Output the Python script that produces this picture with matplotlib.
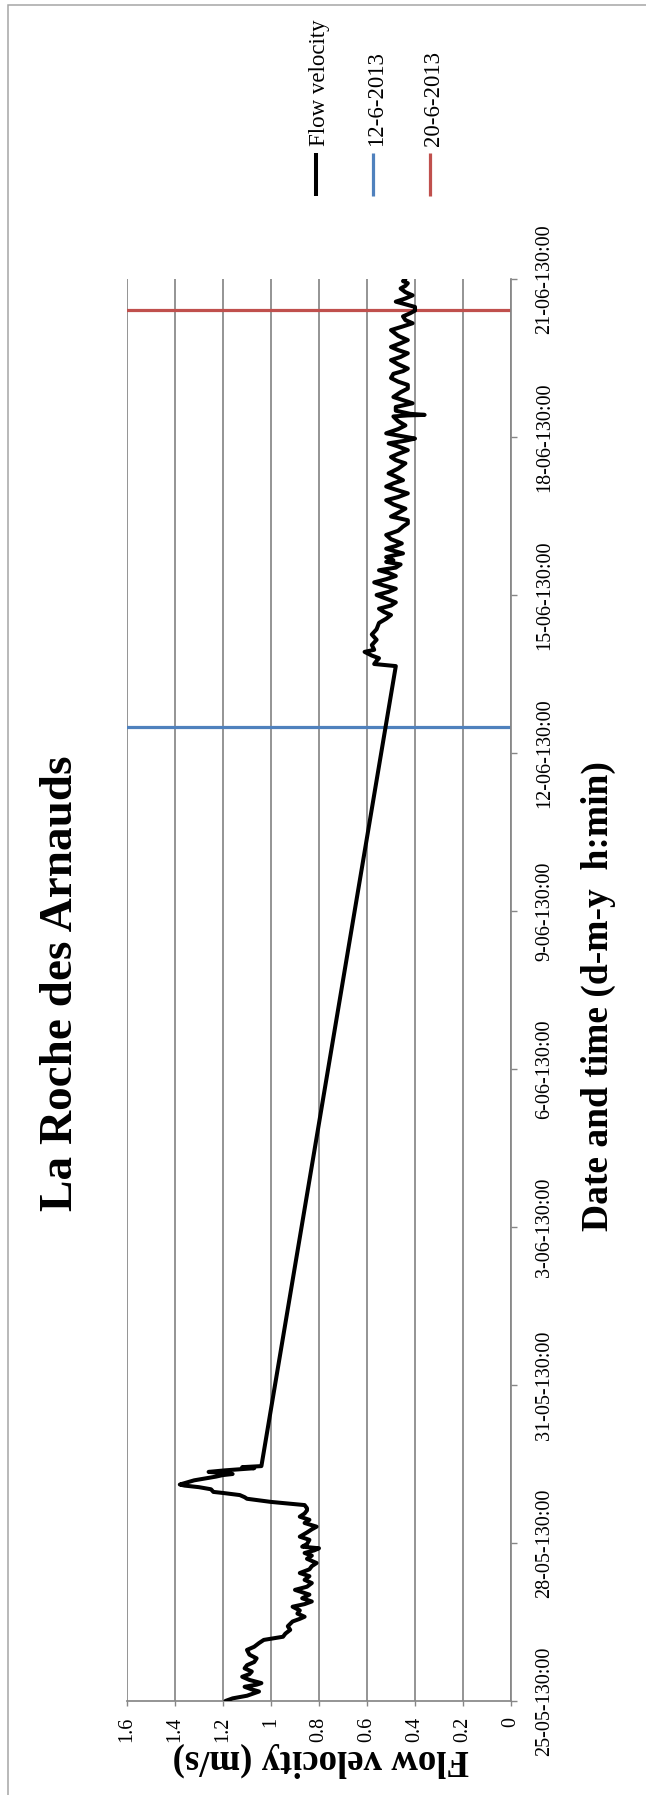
import matplotlib
matplotlib.use("Agg")
import matplotlib.pyplot as plt
import pandas as pd
from matplotlib.lines import Line2D
from matplotlib.patches import Rectangle

plt.rcParams['font.family'] = ['Liberation Serif', 'DejaVu Serif']

# ---------------------------------------------------------------- data
start = pd.Timestamp('2013-05-25 00:00')

# elapsed time (days since 25-05-2013 00:00) and flow velocity (m/s)
time_days = [
    0.00, 0.05, 0.10, 0.18, 0.22, 0.27, 0.31, 0.34, 0.40, 0.46,
    0.51, 0.56, 0.62, 0.68, 0.74, 0.81, 0.88, 0.97, 1.03, 1.10,
    1.16, 1.19, 1.22, 1.28, 1.35, 1.42, 1.51, 1.56, 1.60, 1.66,
    1.72, 1.79, 1.84, 1.89, 1.95, 2.02, 2.11, 2.17, 2.24, 2.30,
    2.37, 2.43, 2.50, 2.56, 2.62, 2.70, 2.76, 2.81, 2.86, 2.90,
    2.93, 2.98, 3.06, 3.12, 3.20, 3.26, 3.31, 3.38, 3.44, 3.50,
    3.56, 3.62, 3.66, 3.72, 3.78, 3.84, 3.87, 3.91, 3.95, 3.97,
    4.02, 4.06, 4.09, 4.11, 4.15, 4.19, 4.23, 4.26, 4.29, 4.31,
    4.33, 4.35, 4.38, 4.40, 4.42, 4.44, 4.46,
    19.65, 19.69, 19.75, 19.80, 19.85, 19.92, 19.96, 20.05, 20.15, 20.25,
    20.35, 20.47, 20.55, 20.62, 20.68, 20.74, 20.80, 20.86, 20.93, 21.00,
    21.06, 21.12, 21.18, 21.24, 21.30, 21.36, 21.42, 21.47, 21.52, 21.58,
    21.63, 21.66, 21.72, 21.79, 21.84, 21.88, 21.93, 21.98, 22.06, 22.14,
    22.22, 22.30, 22.36, 22.42, 22.49, 22.56, 22.64, 22.72, 22.80, 22.86,
    22.93, 23.00, 23.06, 23.12, 23.18, 23.25, 23.31, 23.40, 23.50, 23.56,
    23.62, 23.68, 23.75, 23.82, 23.88, 23.93, 23.97, 24.02, 24.07, 24.15,
    24.22, 24.30, 24.39, 24.41, 24.42, 24.44, 24.50, 24.57, 24.64, 24.70,
    24.76, 24.85, 24.92, 24.99, 25.05, 25.12, 25.20, 25.25, 25.30, 25.38,
    25.46, 25.52, 25.59, 25.65, 25.71, 25.78, 25.84, 25.92, 26.03, 26.10,
    26.16, 26.22, 26.29, 26.35, 26.40, 26.47, 26.52, 26.57, 26.63, 26.69,
    26.75, 26.82, 26.87, 26.92, 26.96, 27.00,
]
velocity = [
    1.19, 1.16, 1.10, 1.05, 1.08, 1.11, 1.06, 1.04, 1.09, 1.12,
    1.09, 1.08, 1.11, 1.10, 1.07, 1.06, 1.09, 1.10, 1.07, 1.05,
    1.03, 0.99, 0.95, 0.94, 0.92, 0.93, 0.91, 0.88, 0.86, 0.89,
    0.88, 0.91, 0.86, 0.83, 0.87, 0.84, 0.90, 0.85, 0.83, 0.86,
    0.84, 0.88, 0.84, 0.83, 0.81, 0.85, 0.83, 0.86, 0.82, 0.80,
    0.87, 0.85, 0.84, 0.88, 0.85, 0.83, 0.81, 0.86, 0.84, 0.88,
    0.86, 0.85, 0.85, 0.86, 1.00, 1.10, 1.11, 1.13, 1.20, 1.24,
    1.25, 1.30, 1.36, 1.38, 1.35, 1.32, 1.27, 1.23, 1.20, 1.16,
    1.21, 1.26, 1.19, 1.13, 1.07, 1.12, 1.04,
    0.48, 0.57, 0.56, 0.55, 0.58, 0.61, 0.57, 0.58, 0.56, 0.58,
    0.56, 0.55, 0.52, 0.50, 0.53, 0.55, 0.50, 0.48, 0.52, 0.56,
    0.51, 0.48, 0.53, 0.57, 0.52, 0.48, 0.51, 0.55, 0.48, 0.46,
    0.52, 0.49, 0.52, 0.45, 0.49, 0.52, 0.48, 0.455, 0.50, 0.52,
    0.47, 0.45, 0.43, 0.43, 0.50, 0.47, 0.44, 0.49, 0.52, 0.47,
    0.43, 0.48, 0.52, 0.49, 0.45, 0.48, 0.51, 0.47, 0.44, 0.48,
    0.50, 0.47, 0.43, 0.47, 0.51, 0.44, 0.40, 0.46, 0.52, 0.47,
    0.44, 0.47, 0.49, 0.43, 0.36, 0.42, 0.48, 0.48, 0.41, 0.45,
    0.49, 0.46, 0.43, 0.43, 0.47, 0.50, 0.49, 0.45, 0.43, 0.47,
    0.50, 0.46, 0.43, 0.47, 0.50, 0.46, 0.43, 0.47, 0.50, 0.45,
    0.41, 0.44, 0.45, 0.42, 0.40, 0.40, 0.44, 0.48, 0.44, 0.41,
    0.44, 0.46, 0.44, 0.43, 0.45, 0.44,
]

# marker dates drawn as horizontal reference lines
event_labels = ['12-6-2013', '20-6-2013']
event_times = ['2013-06-12 12:00', '2013-06-20 10:00']
event_colors = ['#4F81BD', '#C0504D']

velocity_ticks = [1.6, 1.4, 1.2, 1.0, 0.8, 0.6, 0.4, 0.2, 0.0]
velocity_tick_labels = ['1.6', '1.4', '1.2', '1', '0.8', '0.6', '0.4', '0.2', '0']

date_ticks = ['2013-05-25', '2013-05-28', '2013-05-31', '2013-06-03', '2013-06-06',
              '2013-06-09', '2013-06-12', '2013-06-15', '2013-06-18', '2013-06-21']
date_tick_labels = ['25-05-130:00', '28-05-130:00', '31-05-130:00', '3-06-130:00',
                    '6-06-130:00', '9-06-130:00', '12-06-130:00', '15-06-130:00',
                    '18-06-130:00', '21-06-130:00']

# ---------------------------------------------------------------- figure
W, H = 646, 1795
fig = plt.figure(figsize=(W / 100, H / 100), dpi=100)
fig.patch.set_facecolor('white')

def fx(px):
    return px / W

def fy(py):
    return 1 - py / H

# chart frame
fig.add_artist(Rectangle((fx(8), -0.05), 1.0, fy(5) + 0.05, transform=fig.transFigure,
                         fill=False, ec='#A6A6A6', lw=1.1))

ax_left, ax_right, ax_top, ax_bottom = 127, 511, 279, 1701
ax = fig.add_axes([fx(ax_left), fy(ax_bottom), fx(ax_right - ax_left),
                   (ax_bottom - ax_top) / H])

grey = '#868686'
times = start + pd.to_timedelta(time_days, unit='D')

for lab, t, c in zip(event_labels, event_times, event_colors):
    ax.axhline(pd.Timestamp(t), color=c, lw=2.3, zorder=2)

ax.plot(velocity, times, color='black', lw=2.9, solid_joinstyle='round',
        solid_capstyle='round', zorder=3)

ax.set_xlim(1.6, 0.0)
ax.set_ylim(pd.Timestamp('2013-05-25'), pd.Timestamp('2013-06-21'))

ax.set_xticks(velocity_ticks)
ax.set_xticklabels(velocity_tick_labels, rotation=90, ha='center', va='top')
ax.yaxis.tick_right()
ax.set_yticks(pd.to_datetime(date_ticks))
ax.set_yticklabels(date_tick_labels, rotation=90, va='center', ha='left')

ax.tick_params(axis='x', direction='out', length=3.6, width=1.0, color=grey,
               pad=8, labelsize=14.5)
ax.tick_params(axis='y', direction='out', length=4.3, width=1.0, color=grey,
               pad=13, labelsize=14.5)

ax.grid(axis='x', color=grey, lw=1.25)
ax.set_axisbelow(True)
for side in ('top', 'left'):
    ax.spines[side].set_visible(False)
for side in ('bottom', 'right'):
    ax.spines[side].set_color(grey)
    ax.spines[side].set_linewidth(1.25)

ax.set_xlabel('Flow velocity (m/s)', rotation=180, fontsize=26.5, fontweight='bold',
              ha='center', va='center', rotation_mode='anchor')
ax.xaxis.set_label_coords(0.506, -0.0415)
ax.yaxis.set_label_position('right')
ax.set_ylabel('Date and time (d-m-y  h:min)', rotation=90, fontsize=27,
              fontweight='bold', ha='center', va='center', rotation_mode='anchor')
ax.yaxis.set_label_coords(1.228, 0.4958)

# title
fig.text(fx(61), fy(983), 'La Roche des Arnauds', rotation=90, ha='center',
         va='center', fontsize=34, fontweight='bold')

# legend
legend_labels = ['Flow velocity'] + event_labels
legend_colors = ['black'] + event_colors
legend_widths = [2.9, 2.3, 2.3]
legend_x = [315.6, 373, 430]
for lab, c, lw, x in zip(legend_labels, legend_colors, legend_widths, legend_x):
    fig.add_artist(Line2D([fx(x), fx(x)], [fy(196), fy(153)], color=c, lw=lw,
                          transform=fig.transFigure, solid_capstyle='butt'))
    fig.text(fx(x + 4), fy(146), lab, rotation=90, ha='center', va='bottom',
             fontsize=16.5)

fig.savefig('out.png', dpi=100)
